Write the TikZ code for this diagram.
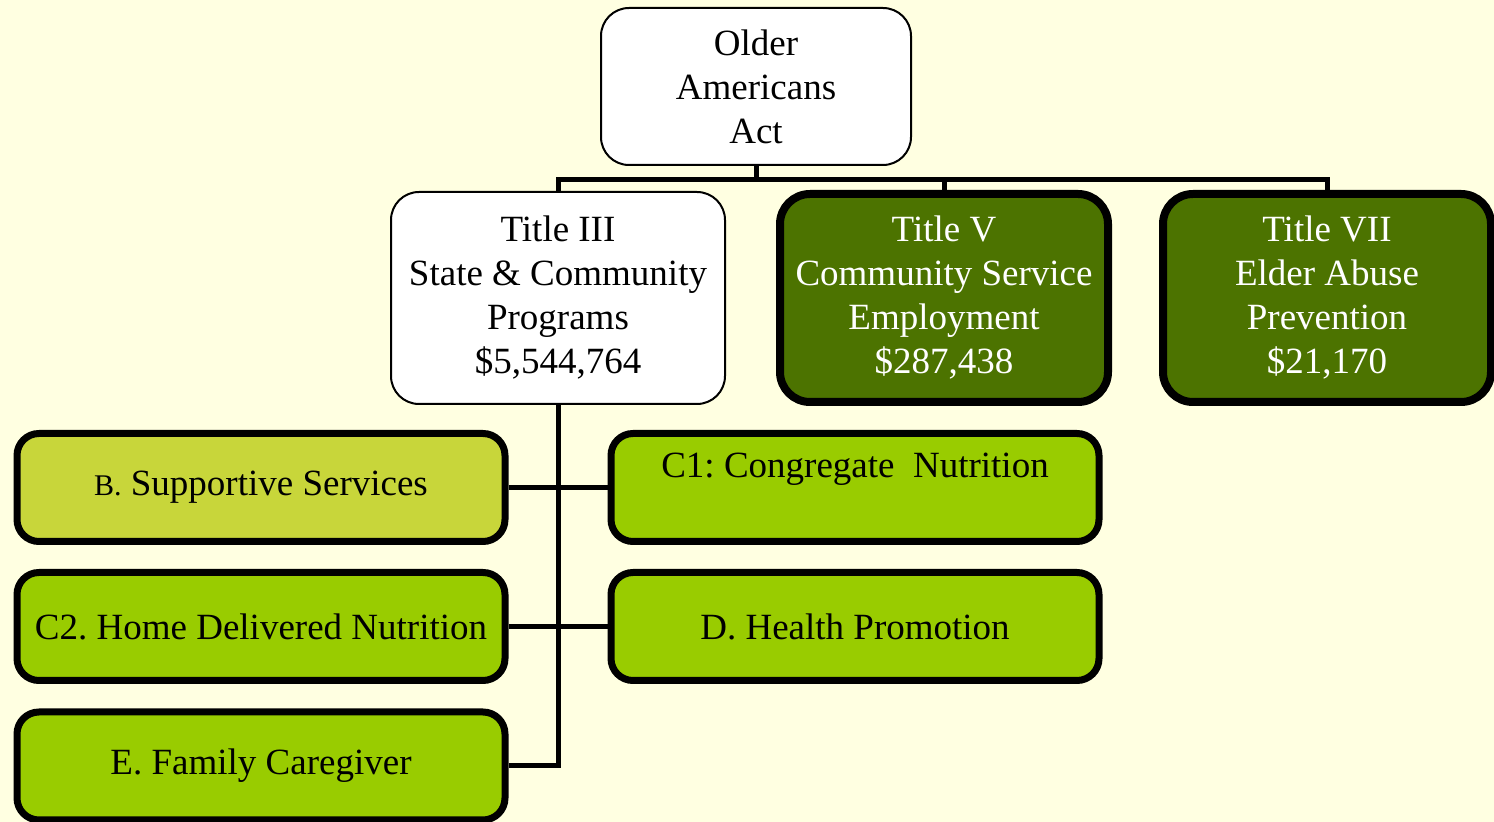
\documentclass[tikz,border=0pt]{standalone}
\usepackage{fontspec}
\setmainfont{Liberation Serif}
\usetikzlibrary{positioning, calc}
\definecolor{bgyellow}{RGB}{255,255,225}
\definecolor{titlegreen}{RGB}{76,115,0}
\definecolor{suppgreen}{RGB}{200,214,58}
\definecolor{proggreen}{RGB}{153,204,0}
\frenchspacing

\begin{document}
\begin{tikzpicture}[x=0.5pt, y=-0.5pt,
  every node/.style={font=\fontsize{18.5}{22}\selectfont, align=center, inner sep=0pt},
  topbox/.style={draw, line width=1pt, fill=white, rounded corners=14pt},
  titlebox/.style={draw, line width=4pt, fill=titlegreen, text=white, rounded corners=15pt,
    minimum width=164pt, minimum height=104pt},
  progbox/.style={draw, line width=3.5pt, fill=proggreen, rounded corners=11pt,
    minimum width=244pt, minimum height=54pt},
  link/.style={line width=2.5pt}]
                \fill[bgyellow] (0,0) rectangle (1494,822);
                \useasboundingbox (0,0) rectangle (1494,822);

                \node[topbox, minimum width=155pt, minimum height=78.5pt] (oaa) at (756,86.5) {Older\\Americans\\Act};
                \node[topbox, minimum width=167pt, minimum height=106pt] (t3) at (558,298) {Title III\\State \& Community\\Programs\\\$5,544,764};
                \node[titlebox] (t5) at (944,298) {Title V\\Community Service\\Employment\\\$287,438};
                \node[titlebox] (t7) at (1327,298) {Title VII\\Elder Abuse\\Prevention\\\$21,170};

                \node[progbox, fill=suppgreen] (supp) at (261,487.5) {{\fontsize{15}{22}\selectfont B.} Supportive Services};
                \node[progbox] (cong) at (855,487.5) {C1: Congregate\ \ Nutrition\\~};
                \node[progbox] (home) at (261,626.5) {C2. Home Delivered Nutrition};
                \node[progbox] (health) at (855,626.5) {D. Health Promotion};
                \node[progbox] (care) at (261,766) {E. Family Caregiver};

                \coordinate (bus) at (756,180);
                \draw[link] (oaa.south) -- (bus);
                \draw[link] (t3.north) |- (bus) -| (t7.north);
                \draw[link] (t5.north) -- (t5.north |- bus);
                \draw[link] (t3.south) |- (care.east);
                \draw[link] (supp.east) -- (cong.west);
                \draw[link] (home.east) -- (health.west);
            \end{tikzpicture}
\end{document}
